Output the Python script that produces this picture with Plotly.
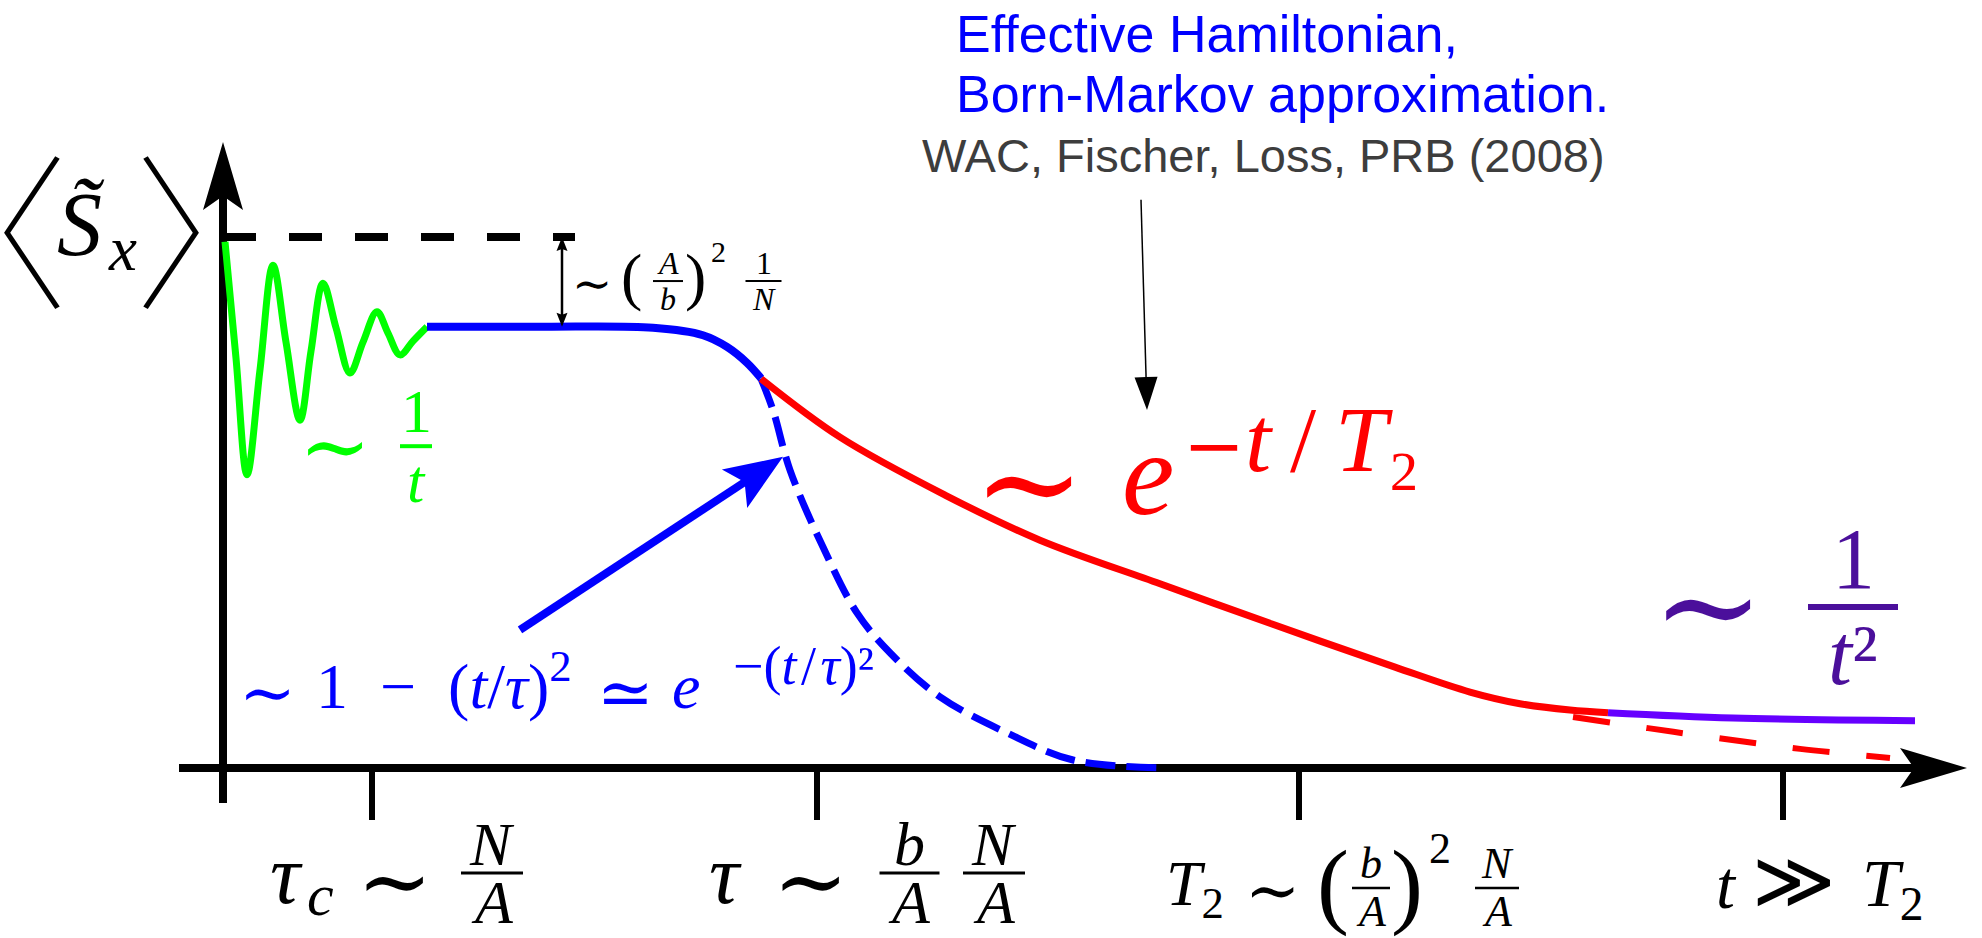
import math
import plotly.graph_objects as go

# ---- curve samples: time t (arb. units) and <S~x> normalised to its initial value ----
# free-induction oscillations at short times
T_OSC = [0.02, 0.13, 0.24, 0.37, 0.50, 0.63, 0.77, 0.88, 1.00, 1.13, 1.27, 1.40, 1.54, 1.65, 1.77, 1.90, 2.04]
S_OSC = [0.991, 0.772, 0.552, 0.750, 0.947, 0.802, 0.655, 0.785, 0.913, 0.829, 0.744, 0.802, 0.859, 0.819, 0.778, 0.804, 0.831]
# quasi-static plateau and onset of the Gaussian decay
T_PLATEAU = [2.04, 3.17, 4.30, 4.80, 5.04, 5.24, 5.38]
S_PLATEAU = [0.831, 0.831, 0.829, 0.815, 0.793, 0.763, 0.734]
# Gaussian continuation, 1 - (t/tau)^2 ~ exp(-(t/tau)^2)
T_GAUSS = [5.38, 5.50, 5.67, 6.00, 6.34, 6.67, 7.17, 7.84, 8.50, 9.40]
S_GAUSS = [0.733, 0.674, 0.561, 0.416, 0.292, 0.217, 0.134, 0.066, 0.015, 0.0]
# Markovian exponential decay exp(-t/T2)
T_EXP = [5.38, 6.17, 7.22, 8.17, 9.37, 10.49, 11.72, 12.47, 12.97, 13.47, 13.85]
S_EXP = [0.733, 0.623, 0.514, 0.429, 0.347, 0.271, 0.190, 0.143, 0.121, 0.109, 0.104]
T_EXP_TAIL = [13.50, 14.25, 15.00, 15.77, 16.67]
S_EXP_TAIL = [0.096, 0.075, 0.055, 0.036, 0.019]
# long-time power-law tail 1/t^2
T_POWER = [13.85, 15.10, 16.92]
S_POWER = [0.104, 0.094, 0.089]
# initial value and its reference level
S0 = 1.0
LEVEL_T = [0.0, 3.52]
# characteristic times on the t axis
TICK_T = [1.49, 5.94, 10.76, 15.60]

# ---- plot window ----
W, H = 1982, 938
X_RANGE = [-2.23, 17.59]
Y_RANGE = [-0.3202, 1.4463]
PX_T = W / (X_RANGE[1] - X_RANGE[0])
PX_S = H / (Y_RANGE[1] - Y_RANGE[0])

GREEN, BLUE, RED = '#00ff00', '#0000ff', '#ff0000'
VIOLET, INDIGO, GREY = '#6600ff', '#4b0f9b', '#3d3d3d'
MATH = 'Liberation Serif'
SYM = 'DejaVu Serif'
SANS = 'Liberation Sans'
CJK = 'Noto Sans CJK JP'

fig = go.Figure()


def curve(t, s, color, width, dash='solid'):
    fig.add_trace(go.Scatter(x=t, y=s, mode='lines', hoverinfo='skip',
                             line=dict(color=color, width=width, dash=dash,
                                       shape='spline', smoothing=1.0)))


curve(LEVEL_T, [S0, S0], 'black', 8, '33px,33px')
curve(T_GAUSS, S_GAUSS, BLUE, 7, '30px,11px')
curve(T_EXP_TAIL, S_EXP_TAIL, RED, 6, '37px,37px')
curve(T_EXP, S_EXP, RED, 7)
curve(T_POWER, S_POWER, VIOLET, 7)
curve(T_OSC, S_OSC, GREEN, 7)
curve(T_PLATEAU, S_PLATEAU, BLUE, 8)


def arrow(t0, s0, t1, s1, color, width, head_len, head_w, notch=0.0,
          both=False, layer='above'):
    """Straight arrow; head geometry given in screen pixels."""
    x0, y0, x1, y1 = t0 * PX_T, s0 * PX_S, t1 * PX_T, s1 * PX_S
    length = math.hypot(x1 - x0, y1 - y0)
    ux, uy = (x1 - x0) / length, (y1 - y0) / length
    back = head_len - notch

    def head(xt, yt, dx, dy):
        bx, by = xt - dx * head_len, yt - dy * head_len
        nx, ny = -dy * head_w / 2, dx * head_w / 2
        pts = [(xt, yt), (bx + nx, by + ny), (xt - dx * back, yt - dy * back),
               (bx - nx, by - ny)]
        path = 'M' + 'L'.join(f'{px / PX_T:.5f},{py / PX_S:.5f}' for px, py in pts) + 'Z'
        fig.add_shape(type='path', path=path, xref='x', yref='y', fillcolor=color,
                      line=dict(width=0), layer=layer)

    inset = head_len * 0.5
    sx0, sy0 = (x0 + ux * inset, y0 + uy * inset) if both else (x0, y0)
    sx1, sy1 = x1 - ux * inset, y1 - uy * inset
    fig.add_shape(type='line', x0=sx0 / PX_T, y0=sy0 / PX_S, x1=sx1 / PX_T, y1=sy1 / PX_S,
                  xref='x', yref='y', line=dict(color=color, width=width), layer=layer)
    head(x1, y1, ux, uy)
    if both:
        head(x0, y0, -ux, -uy)


def text(t, s, txt, size, color='black', xanchor='center', yanchor='middle',
         family=MATH, weight=None, **kw):
    font = dict(family=family, size=size, color=color)
    if weight is not None:
        font['weight'] = weight
    fig.add_annotation(x=t, y=s, text=txt, showarrow=False, xanchor=xanchor,
                       yanchor=yanchor, font=font, borderpad=0, **kw)


def fraction(t, s_bar, num, den, size, color, half, gap_px, bar_w=3):
    text(t, s_bar, num, size, color, yshift=gap_px)
    text(t, s_bar, den, size, color, yshift=-gap_px)
    fig.add_shape(type='line', x0=t - half, x1=t + half, y0=s_bar, y1=s_bar,
                  xref='x', yref='y', line=dict(color=color, width=bar_w))


# ---- axes ----
arrow(0.0, -0.066, 0.0, 1.179, 'black', 8, 68, 40, notch=14, layer='below')
arrow(-0.44, 0.0, 17.44, 0.0, 'black', 8, 67, 40, notch=14, layer='below')
for tk in TICK_T:
    fig.add_shape(type='line', x0=tk, x1=tk, y0=0.0, y1=-0.098, xref='x', yref='y',
                  line=dict(color='black', width=6), layer='below')

# ---- y label <S~x> ----
text(X_RANGE[0] + 0.01, 1.026, '〈', 166, family=CJK, weight=100, xshift=-16)
text(-0.05, 1.026, '〉', 166, family=CJK, weight=100)
text(-1.42, 1.023, '<i>S\u0303</i>', 90)
text(-1.01, 0.977, '<i>x</i>', 63)

# ---- tick labels ----
TICK_BAR = -0.198
text(0.63, -0.201, '<i>τ</i>', 84)
text(0.97, -0.239, '<i>c</i>', 60)
text(1.71, -0.211, '∼', 90, family=SYM)
fraction(2.69, TICK_BAR, '<i>N</i>', '<i>A</i>', 62, 'black', 0.31, 29)

text(5.02, -0.201, '<i>τ</i>', 84)
text(5.87, -0.211, '∼', 90, family=SYM)
fraction(6.865, TICK_BAR, '<i>b</i>', '<i>A</i>', 62, 'black', 0.30, 29)
fraction(7.71, TICK_BAR, '<i>N</i>', '<i>A</i>', 62, 'black', 0.31, 29)

text(9.42, -0.226, '<i>T</i><sub>2</sub>', 64, xanchor='left')
text(10.49, -0.230, '∼', 66, family=SYM)
text(11.10, -0.217, '(', 96)
fraction(11.48, -0.226, '<i>b</i>', '<i>A</i>', 44, 'black', 0.19, 24, bar_w=2.5)
text(11.84, -0.217, ')', 96)
text(12.17, -0.151, '2', 44)
fraction(12.74, -0.226, '<i>N</i>', '<i>A</i>', 44, 'black', 0.22, 24, bar_w=2.5)

text(15.03, -0.220, '<i>t</i>', 68)
text(15.71, -0.212, '≫', 80, family=SYM)
text(16.70, -0.226, '<i>T</i><sub>2</sub>', 68)

# ---- gap between initial value and plateau ----
arrow(3.39, S0, 3.39, 0.831, 'black', 2.5, 14, 11, notch=2, both=True)
text(3.69, 0.913, '∼', 48, family=SYM)
text(4.08, 0.926, '(', 64)
fraction(4.45, 0.917, '<i>A</i>', '<i>b</i>', 32, 'black', 0.15, 18, bar_w=2)
text(4.72, 0.926, ')', 64)
text(4.955, 0.972, '2', 30)
fraction(5.405, 0.917, '1', '<i>N</i>', 32, 'black', 0.18, 18, bar_w=2)

# ---- regime labels ----
text(1.115, 0.606, '∼', 86, GREEN, family=SYM)
fraction(1.93, 0.606, '1', '<i>t</i>', 62, GREEN, 0.16, 35, bar_w=4)

arrow(2.97, 0.260, 5.60, 0.586, BLUE, 8, 58, 46, notch=12)
text(0.44, 0.143, '∼', 68, BLUE, family=SYM)
text(0.92, 0.163, '1\u2002−\u2002(<i>t</i>/<i>τ</i>)<sup>2</sup>', 64, BLUE, xanchor='left')
text(4.02, 0.143, '≃', 68, BLUE, family=SYM)
text(4.48, 0.154, '<i>e</i>', 64, BLUE, xanchor='left')
text(5.80, 0.192, '−(<i>t</i>\u200a/\u200a<i>τ</i>)²', 54, BLUE)

text(8.06, 0.537, '∼', 134, RED, family=SYM)
text(8.98, 0.552, '<i>e</i>', 118, RED, xanchor='left')
text(9.59, 0.620, '<span style="font-family:\'DejaVu Serif\';font-size:74px">−</span>'
     '<i>t</i>\u2009/\u2009<i>T</i>₂', 94, RED, xanchor='left')

text(14.85, 0.305, '∼', 134, INDIGO, family=SYM)
fraction(16.30, 0.303, '1', '<i>t</i>²', 86, INDIGO, 0.45, 48, bar_w=6)

# ---- reference annotation ----
text(7.32, 1.382, 'Effective Hamiltonian,', 52, BLUE, xanchor='left', family=SANS)
text(7.32, 1.269, 'Born-Markov approximation.', 52, BLUE, xanchor='left', family=SANS)
text(6.98, 1.153, 'WAC, Fischer, Loss, PRB (2008)', 47, GREY, xanchor='left', family=SANS)
arrow(9.18, 1.070, 9.24, 0.674, 'black', 1.5, 33, 23)

fig.update_layout(
    width=W, height=H, margin=dict(l=0, r=0, t=0, b=0),
    paper_bgcolor='white', plot_bgcolor='white', showlegend=False,
    xaxis=dict(range=X_RANGE, visible=False, fixedrange=True),
    yaxis=dict(range=Y_RANGE, visible=False, fixedrange=True),
)
fig.write_html('out.html')
